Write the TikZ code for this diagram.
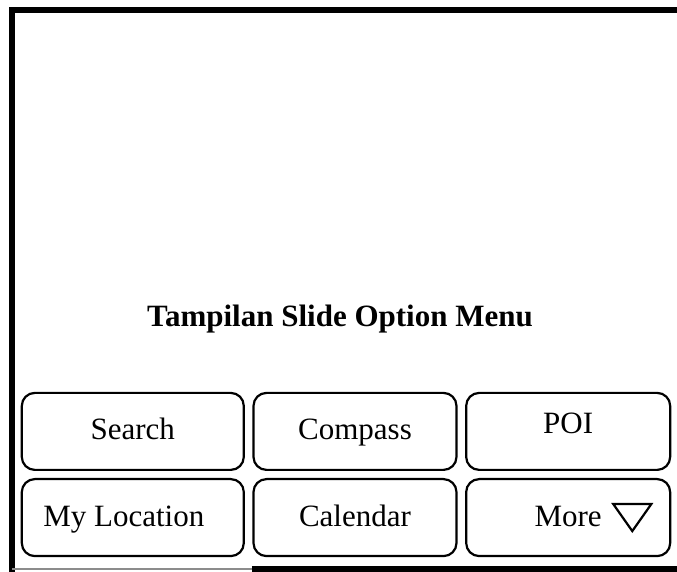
\documentclass[tikz,border=0pt]{standalone}
\usepackage{fontspec}
\setmainfont{Liberation Serif}
\usetikzlibrary{matrix, positioning}
\tikzset{
menu/.style={
  matrix of nodes,
  row sep=3.5pt, % gap between the two rows of buttons
  column sep=3.75pt,
  nodes={draw=black, line width=1.1pt, rounded corners=6.5pt, anchor=center, minimum height=38.5pt,
    text height=8.5pt, text depth=0pt, font=\fontsize{15.5}{18}\selectfont},
  column 1/.style={nodes={minimum width=111pt}},
  column 2/.style={nodes={minimum width=101.5pt}},
  column 3/.style={nodes={minimum width=102pt}}
  },
title/.style={font=\fontsize{15.5}{18}\selectfont\bfseries},
screenline/.style={line width=3pt}
}

\begin{document}
\begin{tikzpicture}[x=0.5pt, y=-0.5pt, ampersand replacement=\&]
  \useasboundingbox (0,0) rectangle (677,572);
  % screen border (right side runs off the page)
  \draw[screenline] (677,10) -- (12,10) -- (12,572);
  \draw[line width=0.6pt, black!45] (12,569) -- (252,569);
  \draw[screenline] (252,569) -- (677,569);
  % option buttons
  \matrix[menu] (menu) at (346,474.5)
  {
  |(search)| Search \& |(compass)| Compass \& |(poi)| \raisebox{3pt}{POI} \\
  |(myloc)| My Location\hspace*{9pt} \& |(calendar)| Calendar \& |(more)| More \\
  };
  % arrow of the "More" button
  \draw[line width=1.1pt, line join=miter] (more.east) ++(-58,-13.5) -- ++(38,0) -- ++(-19,27) -- cycle;
  \node[title, above=22.5pt of menu, xshift=-3pt] (judul) {Tampilan Slide Option Menu};
\end{tikzpicture}
\end{document}
